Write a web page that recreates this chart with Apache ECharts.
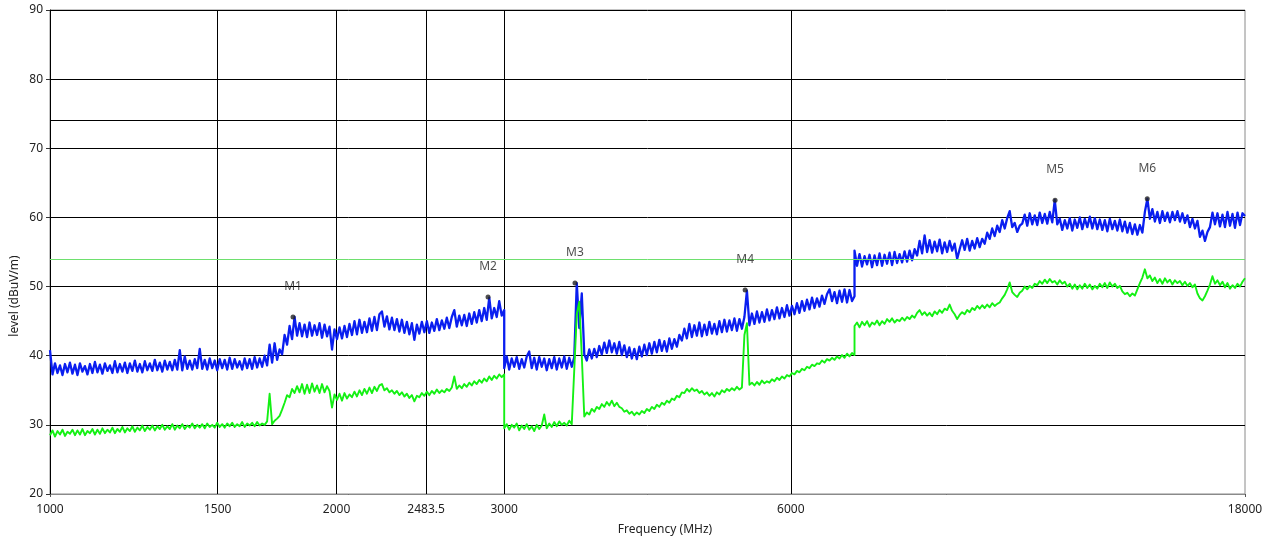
<!DOCTYPE html>
<html><head><meta charset="utf-8">
<script src="https://cdn.jsdelivr.net/npm/echarts@6/dist/echarts.min.js"></script>
<style>html,body{margin:0;padding:0;background:#fff}#c{width:1274px;height:543px}</style>
</head><body><div id="c"></div>
<script>
// ---- data ----
// sweep segments (MHz): each segment has its own list of readings
const segmentEdgesMHz = [1000, 3000, 7000, 18000];

const blueSeg1 = [40.8,37.3,38.9,37.5,38.6,37.2,38.8,37.6,39.0,37.4,
 38.7,37.2,38.9,37.7,38.5,37.3,38.8,37.5,39.1,37.6,
 38.7,37.4,38.9,37.8,38.6,37.5,39.2,37.6,38.8,37.7,
 39.0,37.5,38.9,37.8,39.3,37.7,38.8,37.6,39.2,37.9,
 38.9,37.8,39.4,37.9,39.0,37.7,39.3,38.0,39.1,37.9,
 39.4,38.0,40.8,37.9,39.9,38.1,39.3,38.0,39.5,38.2,
 41.0,38.1,39.4,38.0,39.6,38.2,39.3,37.9,39.5,38.2,
 39.4,38.0,39.7,38.1,39.5,38.3,39.2,38.0,39.6,38.2,
 39.5,38.1,39.8,38.3,39.6,38.4,40.0,38.6,41.6,39.0,
 41.8,39.4,40.9,40.2,43.0,41.6,44.3,42.4,45.6,42.9,
 44.7,42.8,44.5,42.7,44.8,42.9,44.4,43.0,44.7,42.6,
 44.5,42.8,44.2,40.9,43.8,42.4,44.1,42.5,44.3,42.7,
 44.6,43.0,45.0,43.1,45.2,43.3,44.9,43.4,45.4,43.6,
 45.6,43.7,46.0,46.4,44.2,45.7,43.8,45.5,43.7,45.3,
 43.5,45.2,43.3,44.9,43.1,44.7,42.3,44.5,43.2,44.9,
 43.4,45.0,43.3,44.8,43.6,45.3,43.7,45.1,43.9,45.5,
 44.0,45.6,46.6,44.2,45.8,44.4,45.9,44.3,46.1,44.6,
 46.3,44.8,46.6,45.0,46.9,45.2,48.4,45.4,46.9,45.6,
 47.9,45.8,46.6];
const blueSeg2 = [38.2,39.9,38.0,39.6,38.4,39.8,38.1,39.5,38.3,39.9,
 40.6,38.2,39.7,38.0,39.8,38.4,39.6,37.9,39.5,38.2,
 39.8,38.0,39.6,38.3,39.9,38.1,39.7,38.4,39.8,50.5,
 44.0,49.0,40.2,39.3,40.9,39.6,41.0,39.8,41.4,40.2,
 41.9,40.4,42.2,40.5,41.8,40.3,42.0,40.1,41.5,39.8,
 41.2,39.6,41.0,39.5,41.3,39.9,41.6,40.1,41.8,40.3,
 42.0,40.5,42.3,40.7,42.1,40.6,42.5,41.0,42.4,41.3,
 43.0,42.2,43.9,42.5,44.6,42.7,44.4,42.9,44.8,42.8,
 44.5,43.0,44.9,43.2,44.6,43.1,45.0,43.4,45.2,43.5,
 45.1,43.7,45.4,43.6,45.3,43.9,45.6,49.4,44.4,46.1,
 44.6,46.4,44.8,46.3,44.9,46.7,45.1,46.6,45.3,47.0,
 45.4,46.9,45.6,47.3,45.8,47.2,46.0,47.6,46.2,47.9,
 46.5,48.1,46.7,48.4,46.9,48.3,47.1,48.7,47.5,48.9,
 49.6,47.9,49.2,47.6,49.4,47.8,49.6,47.7,49.5,47.9,
 48.6];
const blueSeg3 = [55.2,53.0,54.7,52.9,54.4,53.2,54.6,52.8,54.5,53.1,
 54.8,53.0,54.6,53.3,54.9,53.1,55.0,53.4,54.7,53.5,
 55.1,53.6,55.2,53.8,55.4,54.5,56.6,54.8,57.4,55.0,
 56.7,54.9,56.5,55.1,56.8,54.8,56.4,55.0,56.6,55.2,
 56.2,54.0,55.4,56.7,55.3,56.9,55.2,56.6,55.5,57.0,
 55.7,56.9,56.2,57.8,56.9,58.4,57.3,58.8,57.9,59.6,
 58.4,59.9,60.9,58.6,59.2,57.9,58.8,59.1,60.4,58.8,
 60.6,59.0,60.3,58.9,60.7,59.2,60.5,59.1,60.8,59.3,
 62.5,59.0,59.8,58.2,59.6,58.4,59.9,58.1,59.7,58.5,
 60.0,58.3,59.8,58.6,60.1,58.4,59.9,58.3,59.7,58.2,
 59.6,58.0,59.8,58.3,59.5,58.1,59.7,58.0,59.4,57.8,
 59.2,57.6,59.0,57.5,58.9,57.8,60.8,62.7,59.8,61.2,
 59.4,60.8,59.2,60.9,59.5,60.7,59.3,60.8,59.6,60.9,
 59.4,60.6,59.2,60.3,58.6,59.8,58.4,59.5,57.2,58.1,
 56.6,57.9,58.6,60.7,59.0,60.6,58.7,60.4,58.6,60.8,
 58.8,60.5,58.5,60.7,58.9,60.6,60.2];

const greenSeg1 = [28.5,29.2,28.3,29.1,28.6,29.3,28.4,29.0,28.7,29.3,
 28.5,29.2,28.6,29.4,28.5,29.1,28.8,29.4,28.6,29.3,
 28.7,29.5,28.8,29.3,28.9,29.6,28.8,29.4,29.0,29.7,
 28.9,29.5,29.1,29.8,29.0,29.6,29.2,29.9,29.1,29.7,
 29.3,29.9,29.2,29.8,29.4,30.0,29.3,29.8,29.4,30.1,
 29.3,29.9,29.5,30.1,29.4,29.9,29.6,30.2,29.5,30.0,
 29.6,30.1,29.5,30.2,29.7,30.0,29.6,30.3,29.7,30.1,
 29.6,30.2,29.8,30.3,29.7,30.1,29.8,30.4,29.7,30.2,
 29.9,30.3,29.8,30.4,29.9,30.2,30.0,30.5,34.5,30.1,
 30.6,30.9,31.3,32.2,33.2,34.3,34.0,35.2,34.6,35.6,
 34.7,35.9,34.5,35.8,34.6,36.0,34.8,35.7,34.6,35.9,
 34.7,35.6,34.9,32.5,34.4,33.6,34.5,33.5,34.6,33.8,
 34.4,34.0,34.8,34.1,35.0,34.3,35.2,34.5,35.4,34.6,
 35.5,34.9,35.7,35.9,35.0,35.3,34.7,35.0,34.5,34.9,
 34.3,34.7,34.1,34.5,33.9,34.3,33.4,34.2,34.0,34.6,
 34.2,34.8,34.3,34.9,34.5,35.1,34.6,35.0,34.7,35.2,
 34.9,35.4,37.0,35.2,35.7,35.3,35.9,35.5,36.1,35.7,
 36.3,35.9,36.5,36.1,36.7,36.3,37.0,36.5,37.1,36.7,
 37.3,36.9,37.3];
const greenSeg2 = [29.5,30.1,29.3,30.0,29.6,30.2,29.2,29.9,29.4,30.1,
 29.3,29.8,29.1,30.0,29.4,29.9,31.5,29.5,30.2,29.7,
 30.4,29.8,30.5,30.0,30.3,29.9,30.6,30.1,38.0,46.0,
 47.8,40.0,31.2,31.8,31.5,32.3,31.9,32.6,32.3,33.0,
 32.6,33.3,32.8,33.5,32.7,33.2,32.6,32.4,31.9,32.1,
 31.6,31.9,31.4,31.8,31.5,32.0,31.7,32.3,32.0,32.6,
 32.3,32.9,32.6,33.2,32.9,33.5,33.2,33.8,33.6,34.2,
 34.0,34.7,34.6,35.2,34.8,35.3,34.9,35.1,34.6,34.9,
 34.4,34.7,34.2,34.6,34.1,34.7,34.4,35.0,34.7,35.2,
 34.9,35.3,35.0,35.5,35.1,35.4,43.0,44.7,35.8,36.1,
 35.7,36.2,35.8,36.4,36.0,36.3,36.1,36.6,36.3,36.8,
 36.5,37.0,36.7,37.2,37.0,37.5,37.3,37.8,37.6,38.1,
 37.9,38.4,38.2,38.7,38.5,38.9,38.8,39.3,39.0,39.5,
 39.3,39.7,39.4,39.9,39.6,40.1,39.7,40.3,39.9,40.4,
 40.1];
const greenSeg3 = [44.3,44.8,44.1,44.9,44.4,45.0,44.2,44.8,44.5,45.1,
 44.4,45.0,44.6,45.3,44.9,45.4,44.8,45.2,45.0,45.5,
 45.1,45.6,45.3,45.8,45.5,46.2,46.6,45.9,46.3,45.8,
 46.2,45.7,46.4,46.0,46.6,46.2,46.8,46.6,47.4,46.5,
 46.0,45.3,45.9,46.3,46.0,46.6,46.3,46.9,46.6,47.2,
 46.8,47.3,46.9,47.4,47.0,47.6,47.2,47.5,47.7,48.3,
 48.8,49.6,50.6,49.2,48.8,48.5,49.1,49.4,50.0,49.6,
 50.1,49.8,50.4,50.2,50.8,50.4,51.0,50.5,51.1,50.6,
 50.8,50.3,50.9,50.4,50.7,50.0,50.4,49.7,50.3,49.6,
 50.2,49.7,50.4,49.8,50.3,49.6,50.1,49.7,50.4,49.9,
 50.5,49.8,50.6,50.0,50.4,49.8,50.1,49.3,48.9,49.1,
 48.6,49.0,48.7,49.6,50.5,51.3,52.5,51.2,51.6,50.8,
 51.3,50.5,51.1,50.4,51.2,50.6,51.0,50.3,50.9,50.5,
 50.8,50.2,50.7,50.1,50.5,49.9,50.3,49.0,48.3,48.0,
 48.6,49.4,50.3,51.5,50.4,50.9,50.2,50.7,49.9,50.5,
 49.7,50.2,49.8,50.4,50.0,50.7,51.2];

const markerNames = ['M1','M2','M3','M4','M5','M6'];
const markerFreqMHz = [1800, 2885, 3560, 5373, 11370, 14210];
const markerLevel = [45.6, 48.5, 50.5, 49.5, 62.5, 62.7];

const xTickValues = [1000, 1500, 2000, 2483.5, 3000, 6000, 18000];
const xTickLabels = ['1000', '1500', '2000', '2483.5', '3000', '6000', '18000'];
const xGridValues = [1500, 2000, 2483.5, 3000, 6000];
const limitLineBlack = 74;
const limitLineGreen = 54;

// ---- build series (each segment's readings spread over its sweep range) ----
function segmentPoints(segs) {
  const pts = [];
  segs.forEach((vals, k) => {
    const f0 = segmentEdgesMHz[k], f1 = segmentEdgesMHz[k + 1], n = vals.length;
    vals.forEach((v, i) => pts.push([f0 * Math.pow(f1 / f0, i / (n - 1)), v]));
  });
  return pts;
}
const blueData = segmentPoints([blueSeg1, blueSeg2, blueSeg3]);
const greenData = segmentPoints([greenSeg1, greenSeg2, greenSeg3]);
const markerData = markerFreqMHz.map((f, i) => [f, markerLevel[i]]);

const FONT = 'Noto Sans';
const chart = echarts.init(document.getElementById('c'), null, {renderer: 'canvas'});
chart.setOption({
  animation: false,
  backgroundColor: '#fff',
  textStyle: {fontFamily: FONT},
  grid: {left: 50, right: 29, top: 10, bottom: 49, show: true, borderColor: '#8a8a8a', borderWidth: 1},
  xAxis: {
    type: 'log', logBase: 10, min: 1000, max: 18000,
    axisLine: {show: true, lineStyle: {color: '#8a8a8a', width: 1}},
    axisTick: {show: true, customValues: [1000, 18000], length: 3, lineStyle: {color: '#555'}},
    minorTick: {show: false},
    splitLine: {show: false},
    axisLabel: {
      customValues: xTickValues, color: '#222', fontSize: 12, fontFamily: FONT, margin: 10,
      formatter: (v) => {
        let best = 0;
        xTickValues.forEach((t, i) => { if (Math.abs(t - v) < Math.abs(xTickValues[best] - v)) best = i; });
        return xTickLabels[best];
      }
    }
  },
  yAxis: {
    type: 'value', min: 20, max: 90, interval: 10,
    axisLine: {show: true, lineStyle: {color: '#000', width: 1}},
    axisTick: {show: true, length: 4, lineStyle: {color: '#333'}},
    splitLine: {show: true, lineStyle: {color: '#000', width: 1}},
    axisLabel: {color: '#222', fontSize: 12, fontFamily: FONT, margin: 7}
  },
  graphic: [
    {type: 'text', x: 15, y: 296, rotation: Math.PI / 2,
     style: {text: 'level (dBuV/m)', font: '12px "Noto Sans"', fill: '#222', align: 'center', verticalAlign: 'middle'}},
    {type: 'text', x: 665, y: 530,
     style: {text: 'Frequency (MHz)', font: '12px "Noto Sans"', fill: '#222', align: 'center', verticalAlign: 'middle'}}
  ],
  series: [
    {
      name: 'grid', type: 'line', data: [], z: 1,
      markLine: {
        silent: true, symbol: 'none', z: 1, label: {show: false},
        lineStyle: {color: '#000', width: 1, type: 'solid'},
        data: xGridValues.map(v => ({xAxis: v})).concat([{yAxis: limitLineBlack}])
      }
    },
    {
      name: 'peak', type: 'line', data: blueData, z: 2, symbol: 'none',
      lineStyle: {color: '#0a1ef0', width: 2.3, join: 'round'}, itemStyle: {color: '#0a1ef0'}
    },
    {
      name: 'avg', type: 'line', data: greenData, z: 3, symbol: 'none',
      lineStyle: {color: '#14f014', width: 1.9, join: 'round'}, itemStyle: {color: '#14f014'},
      markLine: {
        silent: true, symbol: 'none', z: 4, label: {show: false},
        lineStyle: {color: '#6ee06e', width: 1, type: 'solid'},
        data: [{yAxis: limitLineGreen}]
      }
    },
    {
      name: 'markers', type: 'scatter', data: markerData, z: 5,
      symbol: 'circle', symbolSize: 5, itemStyle: {color: '#222'},
      label: {show: true, position: 'top', distance: 22, color: '#222', fontSize: 12, fontFamily: FONT,
              formatter: (p) => markerNames[p.dataIndex]}
    }
  ]
});
</script></body></html>
